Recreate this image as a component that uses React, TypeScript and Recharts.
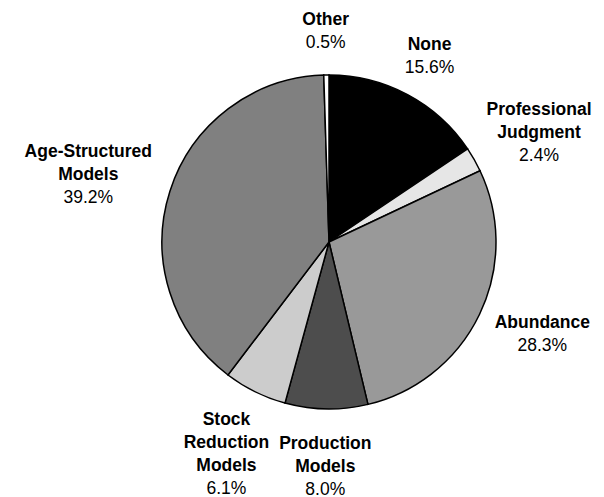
import { Cell, Pie, PieChart } from 'recharts';

const categories = [
  'None',
  'Professional Judgment',
  'Abundance',
  'Production Models',
  'Stock Reduction Models',
  'Age-Structured Models',
  'Other',
];
const shares = [15.6, 2.4, 28.3, 8.0, 6.1, 39.2, 0.5];
const labelLines = [
  ['None'],
  ['Professional', 'Judgment'],
  ['Abundance'],
  ['Production', 'Models'],
  ['Stock', 'Reduction', 'Models'],
  ['Age-Structured', 'Models'],
  ['Other'],
];
const FILLS = ['#000000', '#e6e6e6', '#999999', '#4d4d4d', '#cccccc', '#808080', '#ffffff'];

const FONT = "'Liberation Sans', Arial, Helvetica, sans-serif";
const FONT_SIZE = 17.5;
const LINE_H = 23;

const data = categories.map((name, i) => ({ name, value: shares[i] }));

let ctx: CanvasRenderingContext2D | null = null;
function textWidth(text: string, bold: boolean) {
  if (!ctx) ctx = document.createElement('canvas').getContext('2d');
  if (!ctx) return text.length * 9.5;
  ctx.font = `${bold ? 'bold ' : ''}${FONT_SIZE}px ${FONT}`;
  return ctx.measureText(text).width;
}

const RAD = Math.PI / 180;

// label block sits just outside the slice, pushed outward by its own half size
function renderLabel(props: any) {
  const { cx, cy, midAngle, outerRadius, index } = props;
  const names = labelLines[index];
  const pct = `${shares[index].toFixed(1)}%`;
  const lines = [...names, pct];

  const dx = Math.cos(-midAngle * RAD);
  const dy = Math.sin(-midAngle * RAD);
  const r = outerRadius + 22;
  const px = cx + r * dx;
  const py = cy + r * dy;

  const halfW = Math.max(...names.map((t) => textWidth(t, true)), textWidth(pct, false)) / 2;
  const halfH = (lines.length * LINE_H) / 2;

  const centerX = px + dx * halfW;
  const centerY = py + dy * halfH;
  const top = centerY - halfH;

  return (
    <text
      key={`label-${index}`}
      textAnchor="middle"
      fontFamily={FONT}
      fontSize={FONT_SIZE}
      fill="#000"
    >
      {lines.map((line, i) => (
        <tspan
          key={i}
          x={centerX}
          y={top + LINE_H / 2 + i * LINE_H + 6.3}
          fontWeight={i < names.length ? 'bold' : 'normal'}
        >
          {line}
        </tspan>
      ))}
    </text>
  );
}

export default function App() {
  return (
    <div style={{ position: 'absolute', left: 0, top: 0, width: 604, height: 497, background: '#fff' }}>
      <PieChart width={604} height={497} margin={{ top: 0, right: 0, bottom: 0, left: 0 }}>
        <Pie
          data={data}
          dataKey="value"
          nameKey="name"
          cx={329}
          cy={242}
          outerRadius={167}
          startAngle={90}
          endAngle={-270}
          stroke="#000"
          strokeWidth={1.5}
          label={renderLabel}
          labelLine={false}
          isAnimationActive={false}
        >
          {data.map((d, i) => (
            <Cell key={d.name} fill={FILLS[i]} />
          ))}
        </Pie>
      </PieChart>
    </div>
  );
}
